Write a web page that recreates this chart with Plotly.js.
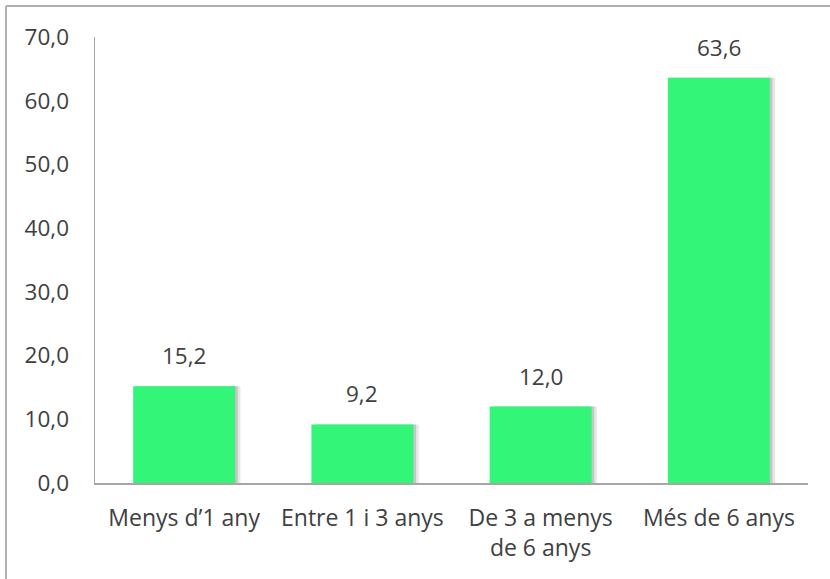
<!DOCTYPE html>
<html>
<head>
<meta charset="utf-8">
<script src="https://cdn.plot.ly/plotly-3.0.1.min.js"></script>
<style>html,body{margin:0;padding:0;background:#fff;}#chart{width:830px;height:579px;}</style>
</head>
<body>
<div id="chart"></div>
<script>
var categories = ["Menys d\u20191 any", "Entre 1 i 3 anys", "De 3 a menys<br>de 6 anys", "M\u00e9s de 6 anys"];
var values = [15.2, 9.2, 12.0, 63.6];
var tickVals = [0, 10, 20, 30, 40, 50, 60, 70];
var tickText = ["0,0", "10,0", "20,0", "30,0", "40,0", "50,0", "60,0", "70,0"];
var valueLabels = values.map(function(v){ return v.toFixed(1).replace('.', ','); });

var FONT = "Open Sans, sans-serif";
var BW = 0.572;

var shadow1 = {
  type: 'bar', x: [0,1,2,3], y: values,
  width: BW, offset: -BW/2 + 0.03,
  marker: {color: 'rgba(120,120,120,0.18)', line: {width: 0}},
  hoverinfo: 'skip', showlegend: false
};
var shadow2 = {
  type: 'bar', x: [0,1,2,3], y: values,
  width: BW, offset: -BW/2 + 0.015,
  marker: {color: 'rgba(100,100,100,0.25)', line: {width: 0}},
  hoverinfo: 'skip', showlegend: false
};
var bars = {
  type: 'bar', x: [0,1,2,3], y: values,
  width: BW, offset: -BW/2,
  marker: {color: '#33F577', line: {width: 0}},
  showlegend: false
};

var annotations = values.map(function(v, i){
  return {x: i, y: v, text: valueLabels[i], showarrow: false, yanchor: 'bottom', yshift: 13,
          font: {family: FONT, size: 22.5, color: '#404040'}};
});

var layout = {
  width: 830, height: 579,
  margin: {l: 95, r: 22, t: 37, b: 96},
  paper_bgcolor: '#fff', plot_bgcolor: '#fff',
  barmode: 'overlay',
  showlegend: false,
  xaxis: {
    range: [-0.5, 3.5], tickvals: [0,1,2,3], ticktext: categories,
    showline: true, linecolor: '#A6A6A6', linewidth: 1.5, showgrid: false, zeroline: false,
    ticks: '', ticklabelstandoff: 14,
    tickfont: {family: FONT, size: 23, color: '#404040'}
  },
  yaxis: {
    range: [0, 70], tickvals: tickVals, ticktext: tickText,
    showline: true, linecolor: '#A6A6A6', linewidth: 1.5, showgrid: false, zeroline: false,
    ticks: '', ticklabelstandoff: 20,
    tickfont: {family: FONT, size: 22.5, color: '#404040'}
  },
  annotations: annotations,
  shapes: [
    {type: 'line', xref: 'paper', yref: 'paper', x0: -0.1248, x1: 1.05, y0: 1.0695, y1: 1.0695, line: {color: '#B0B0B0', width: 2}},
    {type: 'line', xref: 'paper', yref: 'paper', x0: -0.1248, x1: -0.1248, y0: -0.25, y1: 1.0695, line: {color: '#B0B0B0', width: 2}}
  ]
};

Plotly.newPlot('chart', [shadow1, shadow2, bars], layout, {displayModeBar: false, staticPlot: true});
</script>
</body>
</html>
